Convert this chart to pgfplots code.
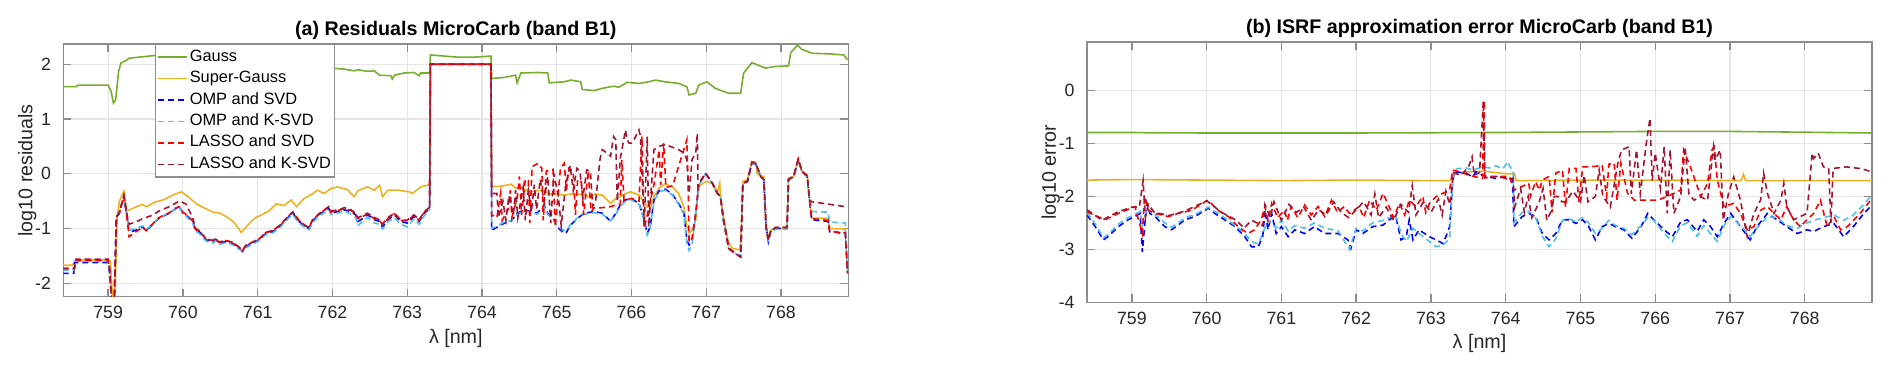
\documentclass[border=0pt]{standalone}
\usepackage{fontspec}
\setmainfont{Liberation Sans}
\usepackage{pgfplots}
\pgfplotsset{compat=1.18}
\definecolor{mgreen}{HTML}{77AC30}
\definecolor{morange}{HTML}{EDB120}
\definecolor{mblue}{HTML}{0000FF}
\definecolor{mcyan}{HTML}{4DBEEE}
\definecolor{mred}{HTML}{FF0000}
\definecolor{mdred}{HTML}{A2142F}
\pgfplotsset{
  mstyle/.style={
    scale only axis,
    width=78.5mm,
    xmin=758.4, xmax=768.9,
    xtick={759,760,761,762,763,764,765,766,767,768},
    tick align=inside,
    tick pos=both,
    major tick length=0.8mm,
    grid=major,
    grid style={draw=black!10, line width=0.3pt},
    axis line style={draw=black!45, line width=0.4pt},
    tick style={draw=black!45, line width=0.4pt},
    ticklabel style={font=\fontsize{5.05pt}{6pt}\selectfont, text=black!85},
    xticklabel style={yshift=0.3mm},
    /pgf/number format/assume math mode=true,
    /pgf/number format/1000 sep={},
    label style={font=\fontsize{5.6pt}{6.6pt}\selectfont, text=black!85},
    every axis title shift=0pt,
    title style={font=\fontsize{5.6pt}{6.6pt}\selectfont\bfseries, anchor=base},
    xlabel style={at={(axis description cs:0.5,-0.165)}, anchor=center},
    ylabel style={at={(axis description cs:-0.046,0.5)}, anchor=center},
    every axis plot/.append style={line width=0.45pt},
    legend image code/.code={\draw[#1] (0mm,0mm) -- (2.9mm,0mm);},
  },
  dsh/.style={dash pattern=on 0.6mm off 0.4mm},
}
\begin{document}
\begin{tikzpicture}
\useasboundingbox (0,0) rectangle (189.2mm,37.3mm);

% ---------- (a) residuals ----------
\begin{axis}[mstyle,
  at={(6.33mm,7.63mm)}, anchor=south west,
  height=25.27mm,
  ymin=-2.245, ymax=2.37,
  ytick={-2,-1,0,1,2},
  title={(a) Residuals MicroCarb (band B1)},
  title style={at={(axis description cs:0.5,1.033)}},
  xlabel={λ [nm]},
  ylabel={log10 residuals},
  legend style={at={(0.1164,1)}, anchor=north west, draw=black!45, fill=white,
    font=\fontsize{4.66pt}{5.6pt}\selectfont, inner sep=0.5pt, row sep=0pt,
    nodes={inner xsep=0.6pt, inner ysep=0.8pt, text height=3.4pt, text depth=1.1pt}},
  legend cell align=left,
]
\addplot[mgreen] coordinates {
(758.39,1.59)(758.57,1.59)(758.60,1.62)(759.00,1.62)(759.04,1.50)(759.07,1.29)(759.10,1.35)(759.14,1.87)(759.17,2.02)(759.24,2.07)(759.28,2.11)(759.55,2.15)(759.62,2.16)(760.5,2.1)(761.5,2.0)(761.996,1.93)(762.16,1.91)(762.29,1.88)(762.34,1.90)(762.47,1.87)(762.56,1.88)(762.63,1.80)(762.78,1.79)(762.80,1.73)(762.83,1.80)(762.96,1.84)(763.09,1.85)(763.16,1.79)(763.18,1.84)(763.30,1.84)(763.31,2.17)(763.49,2.15)(763.67,2.13)(763.90,2.13)(764.12,2.15)(764.13,1.74)(764.30,1.76)(764.45,1.80)(764.47,1.66)(764.52,1.84)(764.74,1.85)(764.88,1.84)(764.90,1.66)(765.10,1.68)(765.19,1.71)(765.32,1.68)(765.34,1.54)(765.50,1.52)(765.61,1.56)(765.76,1.60)(765.83,1.58)(765.94,1.67)(766.10,1.65)(766.23,1.68)(766.32,1.71)(766.45,1.68)(766.63,1.65)(766.74,1.59)(766.77,1.44)(766.86,1.47)(766.90,1.62)(767.01,1.68)(767.12,1.56)(767.30,1.47)(767.46,1.47)(767.50,1.84)(767.61,2.03)(767.79,1.93)(767.93,1.96)(768.10,1.97)(768.13,2.21)(768.22,2.35)(768.28,2.27)(768.42,2.20)(768.64,2.19)(768.84,2.17)(768.89,2.08)};
\addlegendentry{Gauss}
\addplot[morange] coordinates {
(758.39,-1.67)(758.52,-1.67)(758.58,-1.58)(759.00,-1.57)(759.03,-1.60)(759.06,-2.30)(759.09,-2.30)(759.12,-0.80)(759.15,-0.50)(759.21,-0.32)(759.25,-0.68)(759.35,-0.62)(759.45,-0.56)(759.52,-0.60)(759.62,-0.52)(759.75,-0.47)(759.88,-0.38)(759.98,-0.33)(760.08,-0.43)(760.18,-0.55)(760.28,-0.62)(760.40,-0.70)(760.50,-0.72)(760.60,-0.80)(760.68,-0.88)(760.78,-1.07)(760.86,-0.95)(760.95,-0.82)(761.05,-0.75)(761.15,-0.68)(761.25,-0.55)(761.35,-0.58)(761.45,-0.48)(761.52,-0.60)(761.62,-0.45)(761.72,-0.38)(761.80,-0.30)(761.89,-0.36)(761.98,-0.27)(762.07,-0.24)(762.20,-0.29)(762.29,-0.42)(762.34,-0.31)(762.47,-0.24)(762.56,-0.30)(762.63,-0.21)(762.67,-0.42)(762.74,-0.30)(762.87,-0.30)(763.03,-0.33)(763.07,-0.36)(763.18,-0.24)(763.30,-0.20)(763.31,2.0)(764.12,2.0)(764.13,-0.23)(764.25,-0.23)(764.39,-0.19)(764.45,-0.26)(764.52,-0.25)(764.65,-0.33)(764.79,-0.30)(764.92,-0.37)(765.01,-0.37)(765.10,-0.39)(765.23,-0.36)(765.37,-0.39)(765.43,-0.42)(765.52,-0.37)(765.61,-0.39)(765.72,-0.54)(765.79,-0.45)(765.85,-0.42)(765.92,-0.36)(765.99,-0.33)(766.10,-0.39)(766.21,-0.60)(766.25,-0.63)(766.30,-0.42)(766.37,-0.26)(766.45,-0.19)(766.54,-0.23)(766.63,-0.36)(766.70,-0.60)(766.74,-0.96)(766.77,-1.09)(766.81,-1.03)(766.86,-0.84)(766.88,-0.42)(766.90,-0.23)(766.99,-0.14)(767.08,-0.17)(767.15,-0.33)(767.18,-0.17)(767.19,-0.39)(767.23,-0.78)(767.30,-1.27)(767.35,-1.36)(767.44,-1.39)(767.46,-1.27)(767.49,-0.14)(767.55,-0.11)(767.61,0.22)(767.66,0.22)(767.68,0.01)(767.73,-0.05)(767.77,-0.05)(767.80,-0.96)(767.83,-1.21)(767.86,-1.03)(767.93,-1.00)(768.08,-1.00)(768.10,-0.08)(768.17,-0.05)(768.23,0.25)(768.28,0.04)(768.35,-0.02)(768.38,-0.42)(768.41,-0.81)(768.63,-0.81)(768.65,-1.00)(768.86,-1.01)(768.89,-1.82)};
\addlegendentry{Super-Gauss}
\addplot[mblue, dsh] coordinates {
(758.39,-1.82)(758.54,-1.82)(758.55,-1.62)(759.00,-1.62)(759.02,-1.82)(759.05,-2.40)(759.08,-2.40)(759.11,-0.78)(759.15,-0.72)(759.21,-0.42)(759.26,-0.84)(759.28,-1.07)(759.37,-1.03)(759.46,-0.97)(759.51,-1.04)(759.59,-0.93)(759.68,-0.81)(759.82,-0.72)(759.91,-0.63)(759.95,-0.60)(760.00,-0.72)(760.04,-0.75)(760.13,-0.87)(760.17,-1.03)(760.22,-1.06)(760.31,-1.21)(760.40,-1.24)(760.44,-1.20)(760.48,-1.27)(760.57,-1.24)(760.66,-1.27)(760.75,-1.36)(760.80,-1.42)(760.84,-1.33)(760.93,-1.27)(761.02,-1.21)(761.11,-1.09)(761.20,-1.06)(761.29,-0.97)(761.42,-0.78)(761.47,-0.72)(761.55,-0.87)(761.64,-0.97)(761.69,-1.00)(761.73,-0.87)(761.82,-0.75)(761.95,-0.63)(761.98,-0.72)(762.07,-0.69)(762.16,-0.66)(762.25,-0.69)(762.31,-0.75)(762.34,-0.87)(762.38,-0.84)(762.47,-0.75)(762.56,-0.84)(762.63,-0.87)(762.67,-0.97)(762.74,-0.84)(762.83,-0.75)(762.91,-0.87)(763.00,-0.90)(763.09,-0.78)(763.16,-0.87)(763.23,-0.72)(763.30,-0.63)(763.31,2.0)(764.12,2.0)(764.13,-1.03)(764.21,-0.97)(764.30,-0.90)(764.39,-0.87)(764.47,-0.72)(764.56,-0.66)(764.65,-0.69)(764.74,-0.72)(764.83,-0.57)(764.88,-0.72)(764.96,-0.84)(765.01,-0.97)(765.05,-1.03)(765.12,-1.09)(765.19,-0.93)(765.28,-0.81)(765.37,-0.72)(765.50,-0.69)(765.61,-0.72)(765.72,-0.87)(765.79,-0.72)(765.85,-0.57)(765.92,-0.48)(765.99,-0.45)(766.10,-0.54)(766.17,-0.84)(766.21,-1.09)(766.25,-0.97)(766.30,-0.48)(766.37,-0.31)(766.45,-0.28)(766.54,-0.36)(766.63,-0.54)(766.70,-0.72)(766.74,-1.21)(766.77,-1.30)(766.81,-1.21)(766.86,-0.72)(766.90,-0.19)(766.99,0.01)(767.08,-0.17)(767.15,-0.36)(767.19,-0.42)(767.23,-0.84)(767.30,-1.36)(767.39,-1.45)(767.46,-1.51)(767.49,-0.17)(767.55,-0.14)(767.61,0.19)(767.66,0.18)(767.73,-0.05)(767.77,-0.11)(767.80,-0.97)(767.83,-1.24)(767.86,-1.06)(767.93,-1.00)(768.08,-1.00)(768.10,-0.11)(768.17,-0.05)(768.23,0.26)(768.28,0.04)(768.35,-0.05)(768.38,-0.48)(768.41,-0.84)(768.63,-0.87)(768.65,-1.06)(768.86,-1.09)(768.89,-1.82)};
\addlegendentry{OMP and SVD}
\addplot[mcyan, dsh] coordinates {
(758.39,-1.76)(758.54,-1.76)(758.55,-1.60)(759.00,-1.60)(759.02,-1.78)(759.05,-2.40)(759.08,-2.40)(759.11,-0.80)(759.15,-0.70)(759.21,-0.45)(759.26,-0.86)(759.28,-1.03)(759.37,-1.00)(759.46,-0.95)(759.51,-1.02)(759.59,-0.92)(759.68,-0.80)(759.82,-0.71)(759.91,-0.63)(759.95,-0.62)(760.00,-0.73)(760.04,-0.77)(760.13,-0.90)(760.17,-1.05)(760.22,-1.09)(760.31,-1.23)(760.40,-1.27)(760.44,-1.22)(760.48,-1.29)(760.57,-1.26)(760.66,-1.29)(760.75,-1.38)(760.80,-1.40)(760.84,-1.35)(760.93,-1.29)(761.02,-1.22)(761.11,-1.11)(761.20,-1.08)(761.29,-0.99)(761.42,-0.80)(761.47,-0.75)(761.55,-0.90)(761.64,-0.99)(761.69,-1.02)(761.73,-0.90)(761.82,-0.77)(761.95,-0.66)(761.98,-0.74)(762.07,-0.72)(762.16,-0.68)(762.25,-0.74)(762.31,-0.80)(762.34,-0.95)(762.38,-0.90)(762.47,-0.80)(762.56,-0.90)(762.63,-0.92)(762.67,-1.01)(762.74,-0.88)(762.83,-0.80)(762.91,-0.92)(763.00,-0.97)(763.09,-0.82)(763.16,-0.92)(763.23,-0.76)(763.30,-0.66)(763.31,2.0)(764.12,2.0)(764.13,-1.00)(764.21,-0.95)(764.30,-0.88)(764.39,-0.86)(764.47,-0.74)(764.56,-0.68)(764.65,-0.70)(764.74,-0.74)(764.83,-0.60)(764.88,-0.74)(764.96,-0.86)(765.01,-0.95)(765.05,-1.00)(765.12,-1.05)(765.19,-0.92)(765.28,-0.80)(765.37,-0.74)(765.50,-0.71)(765.61,-0.74)(765.72,-0.86)(765.79,-0.74)(765.85,-0.60)(765.92,-0.50)(765.99,-0.47)(766.10,-0.56)(766.17,-0.86)(766.21,-1.12)(766.25,-0.99)(766.30,-0.50)(766.37,-0.33)(766.45,-0.30)(766.54,-0.38)(766.63,-0.56)(766.70,-0.74)(766.74,-1.26)(766.77,-1.40)(766.81,-1.30)(766.86,-0.74)(766.90,-0.21)(766.99,0.0)(767.08,-0.18)(767.15,-0.38)(767.19,-0.44)(767.23,-0.86)(767.30,-1.38)(767.39,-1.46)(767.46,-1.50)(767.49,-0.18)(767.55,-0.15)(767.61,0.18)(767.66,0.17)(767.73,-0.06)(767.77,-0.12)(767.80,-0.98)(767.83,-1.25)(767.86,-1.07)(767.93,-1.01)(768.08,-1.01)(768.10,-0.12)(768.17,-0.06)(768.23,0.25)(768.28,0.03)(768.35,-0.06)(768.38,-0.45)(768.41,-0.69)(768.63,-0.70)(768.65,-0.88)(768.86,-0.90)(768.89,-1.82)};
\addlegendentry{OMP and K-SVD}
\addplot[mred, dsh] coordinates {
(758.39,-1.73)(758.55,-1.73)(758.57,-1.58)(759.00,-1.58)(759.02,-1.75)(759.05,-2.40)(759.08,-2.40)(759.11,-0.80)(759.15,-0.72)(759.21,-0.40)(759.26,-0.90)(759.28,-1.15)(759.37,-1.06)(759.46,-0.98)(759.51,-1.04)(759.59,-0.92)(759.68,-0.80)(759.82,-0.71)(759.91,-0.62)(759.95,-0.60)(760.00,-0.70)(760.04,-0.74)(760.13,-0.86)(760.17,-1.02)(760.22,-1.05)(760.31,-1.19)(760.40,-1.22)(760.44,-1.18)(760.48,-1.25)(760.57,-1.22)(760.66,-1.25)(760.75,-1.34)(760.80,-1.40)(760.84,-1.31)(760.93,-1.25)(761.02,-1.19)(761.11,-1.07)(761.20,-1.04)(761.29,-0.95)(761.42,-0.76)(761.47,-0.70)(761.55,-0.85)(761.64,-0.95)(761.69,-0.98)(761.73,-0.85)(761.82,-0.73)(761.95,-0.61)(761.98,-0.70)(762.07,-0.67)(762.16,-0.64)(762.25,-0.67)(762.31,-0.73)(762.34,-0.82)(762.38,-0.80)(762.47,-0.73)(762.56,-0.82)(762.63,-0.85)(762.67,-0.93)(762.74,-0.82)(762.83,-0.73)(762.91,-0.85)(763.00,-0.86)(763.09,-0.76)(763.16,-0.85)(763.23,-0.70)(763.30,-0.62)(763.31,2.0)(764.12,2.0)(764.13,-0.75)(764.20,-0.80)(764.25,-0.35)(764.27,-0.85)(764.35,-0.65)(764.38,-0.30)(764.40,-0.80)(764.47,-0.45)(764.50,-0.05)(764.53,-0.75)(764.58,-0.10)(764.62,-0.12)(764.64,-0.90)(764.67,0.13)(764.75,0.19)(764.80,0.10)(764.82,-0.85)(764.86,0.05)(764.95,0.08)(764.98,-0.97)(765.05,0.10)(765.10,0.19)(765.13,-0.30)(765.16,0.10)(765.22,0.05)(765.25,-0.75)(765.28,-0.10)(765.33,-0.15)(765.36,-0.75)(765.42,0.05)(765.46,-0.70)(765.50,-0.62)(765.60,-0.62)(765.72,-0.60)(765.85,-0.55)(765.87,0.25)(765.90,-0.48)(766.00,-0.45)(766.10,-0.50)(766.14,0.68)(766.17,-1.00)(766.30,-0.20)(766.37,0.44)(766.39,-0.20)(766.43,0.56)(766.46,-0.25)(766.55,-0.22)(766.74,0.62)(766.76,-0.40)(766.77,-1.25)(766.81,-1.18)(766.86,-0.72)(766.90,-0.19)(766.99,0.01)(767.08,-0.17)(767.15,-0.36)(767.19,-0.42)(767.23,-0.84)(767.30,-1.36)(767.39,-1.46)(767.46,-1.52)(767.49,-0.17)(767.55,-0.14)(767.61,0.21)(767.66,0.20)(767.73,-0.05)(767.77,-0.11)(767.80,-0.97)(767.83,-1.22)(767.86,-1.04)(767.93,-0.98)(768.08,-0.98)(768.10,-0.10)(768.17,-0.04)(768.23,0.27)(768.28,0.05)(768.35,-0.04)(768.38,-0.46)(768.41,-0.82)(768.63,-0.85)(768.65,-1.05)(768.86,-1.08)(768.89,-1.82)};
\addlegendentry{LASSO and SVD}
\addplot[mdred, dsh] coordinates {
(758.39,-1.73)(758.55,-1.73)(758.57,-1.56)(759.00,-1.56)(759.02,-1.74)(759.05,-2.40)(759.08,-2.40)(759.11,-0.80)(759.15,-0.70)(759.21,-0.40)(759.26,-0.80)(759.28,-0.92)(759.37,-0.88)(759.46,-0.82)(759.59,-0.76)(759.68,-0.68)(759.82,-0.60)(759.95,-0.50)(760.04,-0.55)(760.13,-0.80)(760.17,-1.00)(760.22,-1.04)(760.31,-1.19)(760.40,-1.22)(760.44,-1.18)(760.48,-1.25)(760.57,-1.22)(760.66,-1.25)(760.75,-1.34)(760.80,-1.40)(760.84,-1.31)(760.93,-1.25)(761.02,-1.19)(761.11,-1.07)(761.20,-1.04)(761.29,-0.95)(761.42,-0.76)(761.47,-0.70)(761.55,-0.85)(761.64,-0.95)(761.69,-0.98)(761.73,-0.85)(761.82,-0.73)(761.95,-0.60)(761.98,-0.68)(762.07,-0.66)(762.16,-0.62)(762.25,-0.66)(762.31,-0.72)(762.34,-0.80)(762.38,-0.78)(762.47,-0.72)(762.56,-0.80)(762.63,-0.84)(762.67,-0.92)(762.74,-0.80)(762.83,-0.72)(762.91,-0.84)(763.00,-0.85)(763.09,-0.75)(763.16,-0.84)(763.23,-0.69)(763.30,-0.61)(763.31,2.0)(764.12,2.0)(764.13,-0.36)(764.20,-0.36)(764.22,-0.80)(764.28,-0.50)(764.32,-0.85)(764.36,-0.40)(764.42,-0.75)(764.45,-0.30)(764.48,-0.80)(764.55,-0.25)(764.58,-0.85)(764.62,-0.30)(764.66,-0.70)(764.70,-0.20)(764.73,-0.65)(764.78,-0.10)(764.83,-0.50)(764.88,-0.05)(764.92,-0.90)(764.96,0.00)(765.02,-0.40)(765.06,-0.95)(765.12,-0.20)(765.18,0.15)(765.22,-0.30)(765.27,0.10)(765.31,0.05)(765.35,-0.45)(765.40,0.07)(765.45,0.05)(765.48,-0.60)(765.52,-0.50)(765.58,0.28)(765.61,0.44)(765.67,0.38)(765.72,0.32)(765.76,0.68)(765.79,0.62)(765.81,-0.50)(765.85,0.28)(765.92,0.80)(765.94,0.62)(765.97,0.56)(766.01,0.56)(766.10,0.80)(766.12,0.68)(766.17,-0.95)(766.21,0.68)(766.23,-0.97)(766.30,0.44)(766.37,0.50)(766.43,0.53)(766.52,0.50)(766.63,0.44)(766.70,0.38)(766.74,0.26)(766.77,-0.36)(766.81,0.26)(766.86,0.38)(766.88,0.74)(766.89,-0.25)(766.90,-0.19)(766.99,0.01)(767.08,-0.17)(767.15,-0.36)(767.19,-0.42)(767.23,-0.84)(767.30,-1.36)(767.39,-1.46)(767.46,-1.52)(767.49,-0.17)(767.55,-0.14)(767.61,0.21)(767.66,0.20)(767.73,-0.05)(767.77,-0.11)(767.80,-0.97)(767.83,-1.22)(767.86,-1.04)(767.93,-0.98)(768.08,-0.98)(768.10,-0.10)(768.17,-0.04)(768.23,0.27)(768.28,0.05)(768.35,-0.04)(768.38,-0.48)(768.41,-0.51)(768.86,-0.60)(768.89,-0.62)};
\addlegendentry{LASSO and K-SVD}
\end{axis}

% ---------- (b) ISRF approximation error ----------
\begin{axis}[mstyle,
  at={(108.7mm,7.07mm)}, anchor=south west,
  height=26.03mm,
  ymin=-4, ymax=0.92,
  ytick={-4,-3,-2,-1,0},
  title={(b) ISRF approximation error MicroCarb (band B1)},
  title style={at={(axis description cs:0.5,1.032)}},
  xlabel={λ [nm]},
  ylabel={log10 error},
  xlabel style={at={(axis description cs:0.5,-0.157)}},
]
\addplot[mgreen] coordinates {
(758.4,-0.79)(759.0,-0.79)(759.2,-0.795)(760.0,-0.80)(761.0,-0.80)(762.0,-0.80)(763.0,-0.795)(764.0,-0.79)(765.0,-0.78)(766.0,-0.77)(767.0,-0.77)(768.0,-0.785)(768.9,-0.80)};
\addplot[morange] coordinates {
(758.4,-1.69)(759.0,-1.68)(760,-1.69)(761,-1.70)(762,-1.69)(763,-1.70)(763.28,-1.70)(763.32,-1.55)(763.7,-1.52)(764.0,-1.57)(764.12,-1.57)(764.14,-1.70)(765,-1.69)(766,-1.69)(767.15,-1.70)(767.18,-1.58)(767.21,-1.70)(768,-1.70)(768.9,-1.70)};
\addplot[mblue, dsh] coordinates {
(758.40,-2.35)(758.51,-2.57)(758.62,-2.82)(758.68,-2.76)(758.82,-2.57)(758.95,-2.44)(759.04,-2.38)(759.11,-2.32)(759.14,-3.05)(759.17,-2.57)(759.20,-2.13)(759.24,-2.32)(759.31,-2.38)(759.44,-2.57)(759.53,-2.63)(759.62,-2.54)(759.71,-2.44)(759.84,-2.38)(759.98,-2.26)(760.02,-2.22)(760.11,-2.32)(760.24,-2.44)(760.38,-2.57)(760.51,-2.76)(760.60,-2.95)(760.69,-2.95)(760.75,-2.76)(760.78,-2.26)(760.82,-2.63)(760.87,-2.32)(760.93,-2.70)(761.00,-2.57)(761.09,-2.76)(761.18,-2.63)(761.31,-2.70)(761.44,-2.57)(761.58,-2.70)(761.76,-2.70)(761.89,-2.82)(761.93,-2.98)(762.00,-2.63)(762.09,-2.70)(762.22,-2.57)(762.36,-2.54)(762.44,-2.44)(762.53,-2.38)(762.60,-2.82)(762.67,-2.76)(762.71,-2.44)(762.76,-2.82)(762.84,-2.63)(762.98,-2.76)(763.07,-2.82)(763.16,-2.89)(763.20,-2.76)(763.25,-2.57)(763.29,-1.75)(763.31,-1.53)(763.47,-1.56)(763.56,-1.63)(763.60,-1.53)(763.69,-1.60)(763.78,-1.63)(763.87,-1.66)(763.96,-1.63)(764.05,-1.66)(764.09,-1.69)(764.11,-2.57)(764.22,-2.38)(764.31,-2.32)(764.40,-2.38)(764.49,-2.70)(764.58,-2.82)(764.67,-2.70)(764.76,-2.44)(764.85,-2.44)(764.94,-2.51)(765.03,-2.44)(765.11,-2.57)(765.20,-2.82)(765.29,-2.57)(765.38,-2.51)(765.47,-2.57)(765.58,-2.63)(765.69,-2.79)(765.81,-2.57)(765.90,-2.32)(765.98,-2.44)(766.12,-2.63)(766.23,-2.76)(766.34,-2.48)(766.43,-2.44)(766.56,-2.66)(766.65,-2.44)(766.74,-2.57)(766.83,-2.76)(766.92,-2.51)(767.01,-2.32)(767.14,-2.57)(767.27,-2.82)(767.36,-2.57)(767.50,-2.32)(767.63,-2.44)(767.76,-2.57)(767.90,-2.70)(768.03,-2.63)(768.12,-2.66)(768.25,-2.57)(768.39,-2.51)(768.52,-2.76)(768.65,-2.57)(768.79,-2.32)(768.88,-2.19)};
\addplot[mcyan, dsh] coordinates {
(758.40,-2.30)(758.51,-2.52)(758.62,-2.78)(758.68,-2.72)(758.82,-2.52)(758.95,-2.40)(759.04,-2.34)(759.11,-2.28)(759.14,-2.55)(759.17,-2.40)(759.20,-2.20)(759.24,-2.28)(759.31,-2.34)(759.44,-2.50)(759.53,-2.58)(759.62,-2.50)(759.71,-2.40)(759.84,-2.34)(759.98,-2.24)(760.02,-2.20)(760.11,-2.28)(760.24,-2.40)(760.38,-2.55)(760.51,-2.70)(760.60,-2.85)(760.69,-2.90)(760.75,-2.70)(760.82,-2.45)(760.93,-2.60)(761.00,-2.45)(761.09,-2.65)(761.18,-2.55)(761.31,-2.60)(761.44,-2.50)(761.58,-2.60)(761.76,-2.65)(761.91,-3.00)(762.00,-2.60)(762.09,-2.65)(762.22,-2.50)(762.36,-2.45)(762.44,-2.40)(762.53,-2.35)(762.60,-2.70)(762.67,-2.85)(762.76,-2.60)(762.84,-2.70)(762.98,-2.85)(763.07,-2.95)(763.16,-2.92)(763.25,-2.80)(763.29,-1.70)(763.31,-1.48)(763.47,-1.46)(763.56,-1.50)(763.69,-1.44)(763.78,-1.46)(763.87,-1.42)(763.96,-1.48)(764.03,-1.34)(764.06,-1.45)(764.10,-1.50)(764.11,-2.50)(764.22,-2.30)(764.31,-2.28)(764.40,-2.40)(764.49,-2.75)(764.58,-2.95)(764.67,-2.80)(764.76,-2.45)(764.85,-2.42)(764.94,-2.48)(765.03,-2.40)(765.11,-2.50)(765.20,-2.70)(765.29,-2.60)(765.38,-2.45)(765.47,-2.55)(765.58,-2.60)(765.69,-2.72)(765.81,-2.55)(765.90,-2.40)(765.98,-2.45)(766.12,-2.70)(766.23,-2.85)(766.34,-2.55)(766.43,-2.50)(766.56,-2.75)(766.65,-2.55)(766.74,-2.70)(766.83,-2.85)(766.92,-2.55)(767.01,-2.38)(767.14,-2.55)(767.27,-2.75)(767.36,-2.60)(767.50,-2.38)(767.63,-2.40)(767.76,-2.55)(767.90,-2.60)(768.03,-2.50)(768.12,-2.45)(768.25,-2.40)(768.39,-2.35)(768.52,-2.45)(768.65,-2.35)(768.79,-2.15)(768.88,-2.00)};
\addplot[mred, dsh] coordinates {
(758.40,-2.29)(758.64,-2.44)(758.82,-2.32)(759.04,-2.19)(759.14,-2.70)(759.17,-2.00)(759.22,-2.26)(759.31,-2.32)(759.49,-2.38)(759.62,-2.32)(759.80,-2.26)(759.98,-2.10)(760.02,-2.07)(760.15,-2.26)(760.29,-2.38)(760.42,-2.57)(760.55,-2.70)(760.64,-2.63)(760.73,-2.44)(760.78,-2.19)(760.82,-2.45)(760.87,-2.13)(760.95,-2.40)(761.04,-2.26)(761.08,-2.45)(761.13,-2.19)(761.22,-2.40)(761.31,-2.16)(761.40,-2.35)(761.49,-2.19)(761.58,-2.38)(761.67,-2.07)(761.75,-2.30)(761.84,-2.19)(761.91,-2.32)(762.04,-2.19)(762.10,-2.40)(762.18,-2.07)(762.27,-2.26)(762.36,-1.94)(762.44,-2.19)(762.50,-2.40)(762.58,-2.13)(762.65,-2.35)(762.71,-2.07)(762.80,-2.19)(762.89,-2.00)(762.93,-2.30)(762.98,-2.13)(763.07,-2.00)(763.16,-1.94)(763.25,-1.88)(763.29,-1.50)(763.38,-1.53)(763.51,-1.60)(763.69,-1.66)(763.71,-0.19)(763.72,-1.62)(763.87,-1.62)(764.05,-1.62)(764.11,-1.88)(764.22,-1.81)(764.31,-1.75)(764.33,-2.00)(764.40,-1.72)(764.45,-1.88)(764.49,-1.69)(764.58,-1.62)(764.62,-2.30)(764.67,-1.56)(764.76,-1.50)(764.80,-2.20)(764.85,-1.47)(764.94,-1.47)(764.98,-2.10)(765.03,-1.44)(765.11,-1.44)(765.20,-1.43)(765.29,-1.41)(765.35,-2.00)(765.38,-1.39)(765.45,-1.37)(765.49,-2.07)(765.54,-1.37)(765.63,-1.94)(765.72,-2.07)(765.90,-2.07)(766.03,-2.07)(766.16,-2.00)(766.34,-1.88)(766.38,-1.12)(766.47,-1.44)(766.61,-2.00)(766.70,-1.75)(766.76,-1.12)(766.79,-1.06)(766.83,-1.69)(766.92,-2.19)(767.05,-2.13)(767.14,-2.32)(767.23,-2.63)(767.32,-2.57)(767.41,-2.26)(767.50,-2.19)(767.59,-2.32)(767.68,-2.44)(767.76,-2.19)(767.85,-2.44)(767.94,-2.57)(768.03,-2.44)(768.12,-2.32)(768.21,-2.07)(768.30,-2.57)(768.39,-2.38)(768.48,-2.63)(768.57,-2.57)(768.74,-2.32)(768.88,-2.07)};
\addplot[mdred, dsh] coordinates {
(758.4,-2.25)(758.6,-2.45)(758.8,-2.30)(759.0,-2.20)(759.10,-2.20)(759.15,-1.70)(759.18,-2.40)(759.22,-2.15)(759.3,-2.30)(759.5,-2.36)(759.7,-2.28)(759.9,-2.15)(760.0,-2.08)(760.2,-2.30)(760.4,-2.45)(760.5,-2.60)(760.6,-2.45)(760.75,-2.55)(760.78,-2.15)(760.85,-2.40)(760.9,-2.10)(761.0,-2.45)(761.1,-2.15)(761.2,-2.30)(761.3,-2.20)(761.4,-2.45)(761.5,-2.25)(761.6,-2.35)(761.7,-2.10)(761.8,-2.30)(761.9,-2.40)(762.0,-2.25)(762.1,-2.10)(762.2,-2.35)(762.25,-1.95)(762.3,-2.40)(762.4,-2.20)(762.5,-2.45)(762.6,-2.15)(762.7,-2.30)(762.75,-1.80)(762.8,-2.35)(762.9,-2.10)(763.0,-2.30)(763.1,-2.05)(763.15,-2.35)(763.2,-1.90)(763.25,-2.15)(763.28,-1.85)(763.30,-1.55)(763.4,-1.60)(763.5,-1.45)(763.55,-1.25)(763.58,-1.60)(763.65,-1.55)(763.70,-0.20)(763.72,-1.65)(763.9,-1.62)(764.05,-1.68)(764.10,-1.65)(764.12,-2.2)(764.2,-1.85)(764.25,-2.30)(764.3,-2.0)(764.35,-2.40)(764.45,-2.10)(764.5,-1.85)(764.55,-2.45)(764.6,-2.3)(764.65,-2.0)(764.7,-2.0)(764.75,-2.1)(764.8,-2.1)(764.9,-1.9)(765.0,-2.1)(765.05,-1.6)(765.10,-2.1)(765.2,-2.0)(765.25,-1.5)(765.3,-2.0)(765.4,-2.2)(765.5,-1.37)(765.55,-1.12)(765.65,-1.06)(765.68,-1.95)(765.75,-1.12)(765.80,-1.95)(765.88,-1.0)(765.93,-0.52)(765.96,-1.70)(766.0,-1.18)(766.07,-1.85)(766.12,-1.06)(766.16,-2.32)(766.20,-1.12)(766.25,-2.32)(766.34,-2.0)(766.40,-1.06)(766.45,-1.95)(766.52,-2.07)(766.60,-2.0)(766.70,-2.07)(766.78,-1.06)(766.80,-1.31)(766.87,-1.12)(766.91,-2.45)(766.98,-1.94)(767.05,-1.63)(767.14,-2.07)(767.23,-2.76)(767.32,-2.32)(767.41,-2.07)(767.45,-1.56)(767.50,-1.94)(767.59,-2.32)(767.68,-2.07)(767.72,-1.75)(767.76,-2.19)(767.85,-2.44)(767.94,-2.38)(768.03,-2.32)(768.10,-1.18)(768.12,-1.28)(768.18,-1.18)(768.25,-1.44)(768.32,-1.47)(768.35,-2.5)(768.38,-1.47)(768.55,-1.44)(768.74,-1.47)(768.82,-1.50)(768.88,-1.53)};
\end{axis}
\end{tikzpicture}
\end{document}
